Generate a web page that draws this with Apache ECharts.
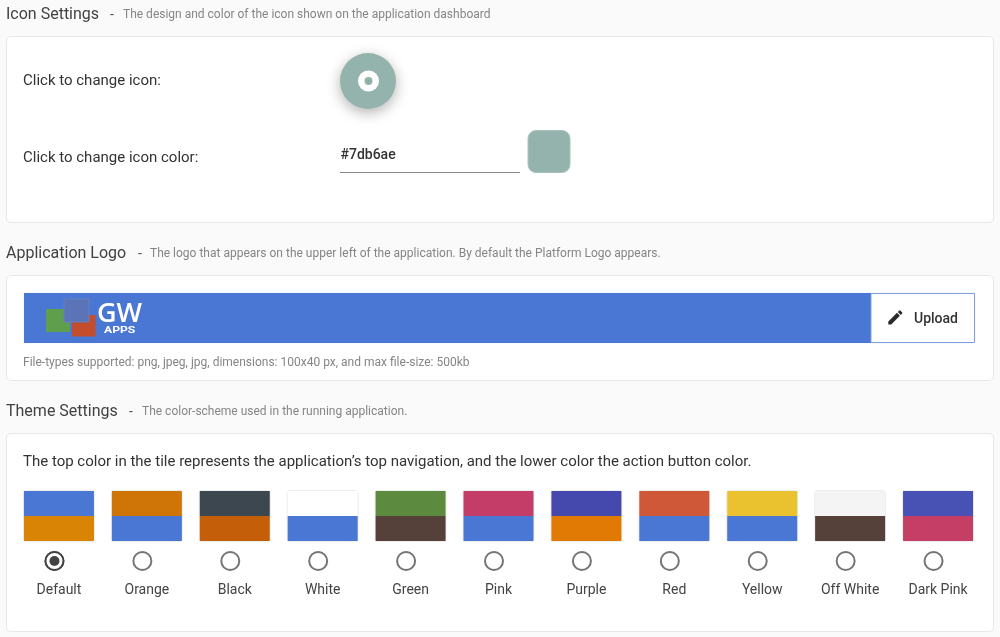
<!DOCTYPE html>
<html>
<head>
<meta charset="utf-8">
<title>Application settings</title>
<style>
  html,body{margin:0;padding:0;background:#fafafa;}
  #main{width:1000px;height:637px;}
</style>
<script src="https://cdn.jsdelivr.net/npm/echarts@6/dist/echarts.min.js"></script>
</head>
<body>
<div id="main"></div>
<script>
var themes = ['Default','Orange','Black','White','Green','Pink','Purple','Red','Yellow','Off White','Dark Pink'];
var topColors = ['#4a76d4','#cf7407','#3d4750','#ffffff','#5c8a3f','#c43d68','#4549ae','#cf5838','#eac22f','#f4f4f4','#4851b4'];
var bottomColors = ['#d98405','#4a76d4','#c55e08','#4a76d4','#55403a','#4a76d4','#e07a05','#4a76d4','#4a76d4','#55403a','#c43e66'];
var topShare = [1,1,1,1,1,1,1,1,1,1,1];
var bottomShare = [1,1,1,1,1,1,1,1,1,1,1];
var selectedTheme = 'Default';
var iconColor = '#7db6ae';

var FONT = 'Roboto';
var chart = echarts.init(document.getElementById('main'));

function txt(x,y,text,size,color,weight,family){
  return {
    type:'text',
    style:{x:x,y:y,text:text,fontSize:size,fontFamily:family||FONT,fontWeight:weight||400,fill:color,align:'left',verticalAlign:'middle'}
  };
}
function box(x,y,w,h,r,fill,stroke,extra){
  var style = {fill:fill,stroke:stroke||null,lineWidth:stroke?1:0};
  for(var k in extra){ style[k] = extra[k]; }
  return {type:'rect',shape:{x:x,y:y,width:w,height:h,r:r},style:style};
}
function disc(x,y,r,fill,extra){
  var style = {fill:fill};
  for(var k in extra){ style[k] = extra[k]; }
  return {type:'circle',shape:{cx:x,cy:y,r:r},style:style};
}
function heading(x,title,sepX,descX,desc,y){
  return [
    txt(x,y,title,16,'#424242'),
    txt(sepX,y,'-',14,'#555555'),
    txt(descX,y,desc,12,'#858585')
  ];
}
// pencil outline on a 24 unit icon grid
function icon(points,x,y,scale,fill){
  return {
    type:'polygon',
    shape:{points:points.map(function(p){ return [x+p[0]*scale,y+p[1]*scale]; })},
    style:{fill:fill}
  };
}
var pencilBody = [[3,21],[3,17.25],[14.06,6.19],[17.81,9.94],[6.75,21]];
var pencilCap = [[15.13,5.12],[16.96,3.29],[18.37,3.29],[20.71,5.63],[20.71,7.04],[18.88,8.87]];

var appsMark = txt(0,0,'APPS',9.5,'#ffffff',700);
appsMark.x = 104;
appsMark.y = 331;
appsMark.scaleX = 1.28;

var chrome = [].concat(
  // panels
  box(6.5,36.5,987,186,4,'#ffffff','#e8e8e8'),
  box(6.5,275.5,987,105,4,'#ffffff','#e8e8e8'),
  box(6.5,433.5,987,198,4,'#ffffff','#e8e8e8'),

  // icon settings
  heading(6,'Icon Settings',110,123,'The design and color of the icon shown on the application dashboard',15),
  txt(23,81,'Click to change icon:',15,'#333333'),
  txt(23,158,'Click to change icon color:',15,'#333333'),
  disc(368,81,28,'#94b3ac',{shadowBlur:14,shadowColor:'rgba(0,0,0,0.3)',shadowOffsetY:4}),
  disc(368.5,81,10.5,'#ffffff'),
  disc(368.5,81,4,'#94b3ac'),
  disc(368.5,81,1.2,'#86a8a0'),
  txt(340.5,155.5,iconColor,14,'#333333',500),
  {type:'line',shape:{x1:340,y1:172.5,x2:520,y2:172.5},style:{stroke:'#8a8a8a',lineWidth:1}},
  box(528,130.5,42,42,8,'#94b3ac','#a9c4be'),

  // application logo
  heading(6,'Application Logo',138,150,'The logo that appears on the upper left of the application. By default the Platform Logo appears.',254),
  box(23.5,292.5,952,51,0,'#eef1f7'),
  box(24,293,847,50,0,'#4a76d4'),
  box(46,309,24,23,0,'#5f9e4a'),
  box(72,315,23.5,21.5,0,'#c44d2c'),
  box(64,299,25,23,0,'#5b74b8','#6580c0'),
  txt(97,314,'GW',27,'#ffffff',600,'Open Sans'),
  appsMark,
  box(871,293.5,103.5,49,0,'#ffffff','#7ea0e0'),
  icon(pencilBody,886,308,0.78,'#2b2b2b'),
  icon(pencilCap,886,308,0.78,'#2b2b2b'),
  txt(914,319,'Upload',14,'#333333',500),
  txt(23,363,'File-types supported: png, jpeg, jpg, dimensions: 100x40 px, and max file-size: 500kb',12,'#858585'),

  // theme settings
  heading(6,'Theme Settings',129,142,'The color-scheme used in the running application.',412),
  txt(23,462,'The top color in the tile represents the application\u2019s top navigation, and the lower color the action button color.',15,'#333333')
);

var radioData = [], pickedData = [];
themes.forEach(function(name){
  radioData.push([name,'state']);
  if(name === selectedTheme){ pickedData.push([name,'state']); }
});

function tileColor(colors){
  return function(p){ return colors[p.dataIndex]; };
}

var option = {
  backgroundColor:'#fafafa',
  animation:false,
  textStyle:{fontFamily:FONT},
  graphic:{elements:chrome},
  grid:[
    {left:15,width:967,top:491,height:50},
    {left:15,width:967,top:551,height:20}
  ],
  xAxis:[
    {gridIndex:0,type:'category',data:themes,axisLine:{show:false},axisTick:{show:false},axisLabel:{show:false}},
    {gridIndex:1,type:'category',data:themes,axisLine:{show:false},axisTick:{show:false},
      axisLabel:{show:true,interval:0,margin:12,fontSize:14,color:'#444444',fontFamily:FONT}}
  ],
  yAxis:[
    {gridIndex:0,type:'value',min:0,max:2,show:false},
    {gridIndex:1,type:'category',data:['state'],show:false}
  ],
  series:[
    {
      name:'Action button',type:'bar',stack:'tile',barWidth:70,data:bottomShare,
      showBackground:true,
      backgroundStyle:{color:'rgba(0,0,0,0)',borderColor:'#ededed',borderWidth:2,borderRadius:3},
      itemStyle:{color:tileColor(bottomColors)}
    },
    {
      name:'Top navigation',type:'bar',stack:'tile',barWidth:70,data:topShare,
      itemStyle:{color:tileColor(topColors)}
    },
    {
      name:'Radio',type:'scatter',xAxisIndex:1,yAxisIndex:1,data:radioData,
      symbol:'circle',symbolSize:18,symbolOffset:[-4.5,0],
      itemStyle:{color:'#ffffff',borderColor:'#757575',borderWidth:2,opacity:1}
    },
    {
      name:'Selected',type:'scatter',xAxisIndex:1,yAxisIndex:1,data:pickedData,
      symbol:'circle',symbolSize:18,symbolOffset:[-4.5,0],z:3,
      itemStyle:{color:'#ffffff',borderColor:'#424242',borderWidth:2,opacity:1}
    },
    {
      name:'Selected dot',type:'scatter',xAxisIndex:1,yAxisIndex:1,data:pickedData,
      symbol:'circle',symbolSize:10,symbolOffset:[-4.5,0],z:4,
      itemStyle:{color:'#424242',opacity:1}
    }
  ]
};
chart.setOption(option);
</script>
</body>
</html>
